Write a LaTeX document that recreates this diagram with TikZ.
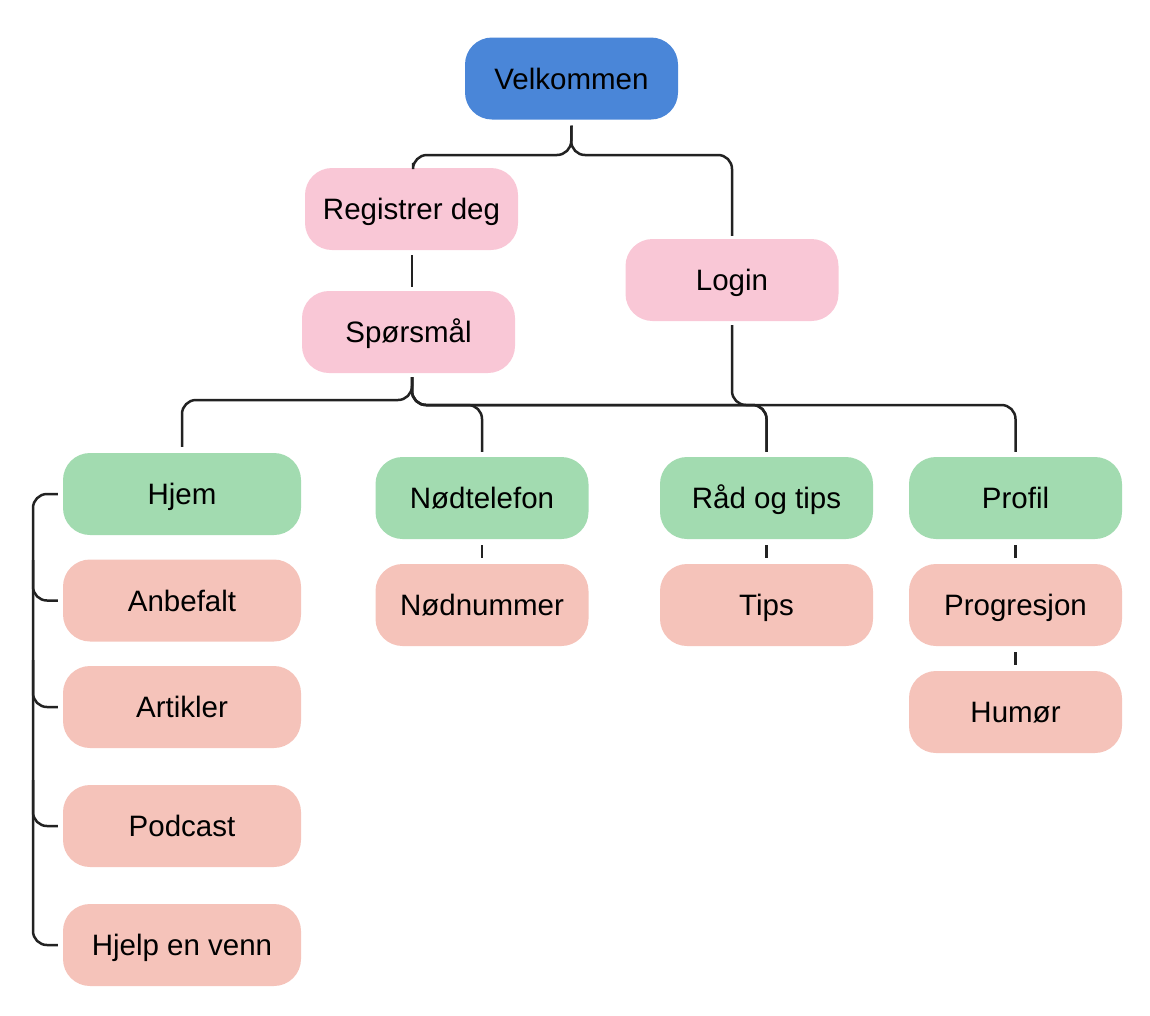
\documentclass[tikz,border=0pt]{standalone}
\usepackage{fontspec}
\setmainfont{Liberation Sans}
\definecolor{cblue}{RGB}{74,134,216}
\definecolor{cpink}{RGB}{249,199,214}
\definecolor{cgreen}{RGB}{162,219,176}
\definecolor{csalmon}{RGB}{245,195,186}
\definecolor{cline}{RGB}{34,34,34}
\begin{document}
\begin{tikzpicture}[x=1pt,y=-1pt,
  box/.style={rectangle, rounded corners=27pt, minimum width=213pt, minimum height=82pt, inner sep=0pt, text height=21pt, text depth=0pt, font=\fontsize{29.5}{34}\selectfont, text=black},
  wide/.style={box, minimum width=238pt},
  bl/.style={fill=cblue},
  pk/.style={fill=cpink},
  gr/.style={fill=cgreen},
  sa/.style={fill=csalmon},
  conn/.style={draw=cline, line width=2.5pt, rounded corners=14pt}]
\useasboundingbox (0,0) rectangle (1150,1015);
\node[box,bl] (vel) at (571.5,78.5) {Velkommen};
\node[box,pk] (reg) at (411.5,209) {Registrer deg};
\node[box,pk] (log) at (732,280) {Login};
\node[box,pk] (spm) at (408.5,332) {Spørsmål};
\node[wide,gr] (hjem) at (182,494) {Hjem};
\node[box,gr] (nod) at (482,498) {Nødtelefon};
\node[box,gr] (rad) at (766.5,498) {Råd og tips};
\node[box,gr] (prof) at (1015.5,498) {Profil};
\node[wide,sa] (anb) at (182,600.5) {Anbefalt};
\node[wide,sa] (art) at (182,707) {Artikler};
\node[wide,sa] (pod) at (182,826) {Podcast};
\node[wide,sa] (hjv) at (182,945) {Hjelp en venn};
\node[box,sa] (nnr) at (482,605) {Nødnummer};
\node[box,sa] (tips) at (766.5,605) {Tips};
\node[box,sa] (prog) at (1015.5,605) {Progresjon};
\node[box,sa] (hum) at (1015.5,712) {Humør};
% top split
\draw[conn] ([yshift=-6pt]vel.south) -- (571,155) -| ([yshift=5pt]reg.north -| 413,0);
\draw[conn] ([yshift=-6pt]vel.south) -- (571,155) -| ([yshift=3pt]log.north);
\draw[conn] ([yshift=-5pt]reg.south -| 412,0) -- ([yshift=4pt]spm.north -| 412,0);
% Spørsmål split
\draw[conn] ([yshift=-4pt]spm.south -| 412,0) -- (412,400) -| ([yshift=6pt]hjem.north);
\draw[conn] ([yshift=-4pt]spm.south -| 412,0) -- (412,405) -| ([yshift=5pt]nod.north);
\draw[conn] ([yshift=-4pt]spm.south -| 412,0) -- (412,405) -| ([yshift=5pt]rad.north);
\draw[conn] ([yshift=-4pt]spm.south -| 412,0) -- (412,405) -| ([yshift=5pt]prof.north);
\draw[conn] ([yshift=-4pt]log.south) -- (732,405) -| ([yshift=5pt]rad.north);
% short links
\draw[conn] ([yshift=-6pt]nod.south) -- ([yshift=6pt]nnr.north);
\draw[conn] ([yshift=-6pt]rad.south) -- ([yshift=6pt]tips.north);
\draw[conn] ([yshift=-6pt]prof.south) -- ([yshift=6pt]prog.north);
\draw[conn] ([yshift=-6pt]prog.south) -- ([yshift=6pt]hum.north);
% left bracket
\draw[conn] ([xshift=-5pt]hjem.west) -- (33,494) -- (33,945) -- ([xshift=-5pt]hjv.west);
\draw[conn] (33,560) |- ([xshift=-5pt]anb.west);
\draw[conn] (33,660) |- ([xshift=-5pt]art.west);
\draw[conn] (33,780) |- ([xshift=-5pt]pod.west);
\end{tikzpicture}
\end{document}
